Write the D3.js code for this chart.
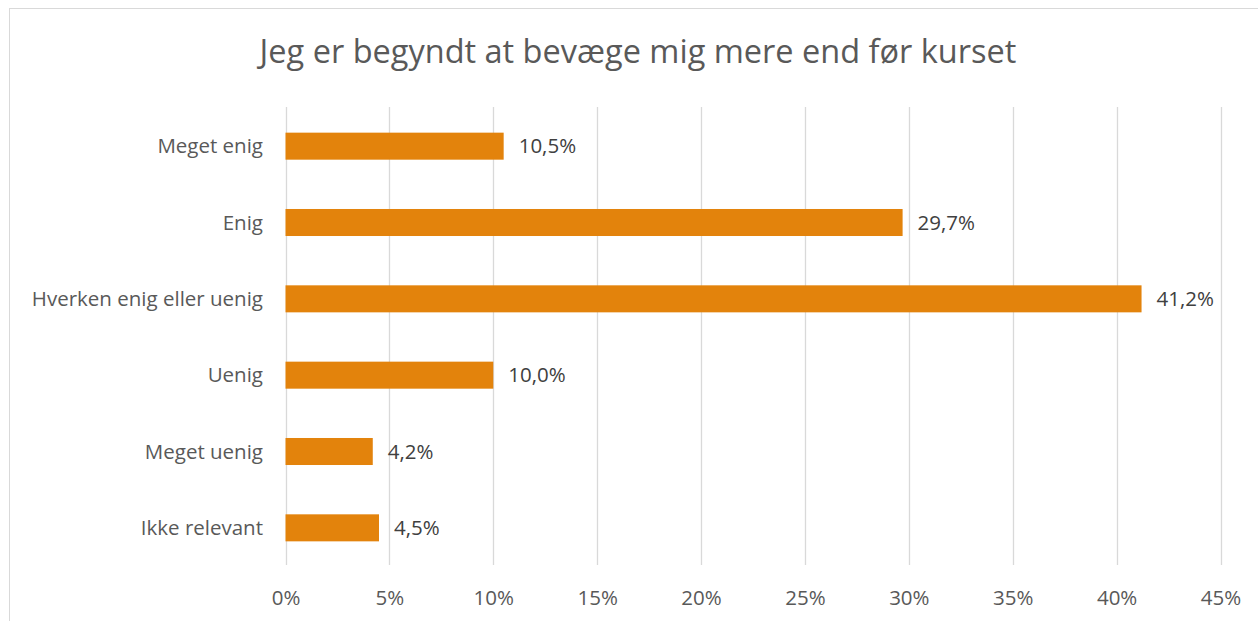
<!DOCTYPE html>
<html><head><meta charset="utf-8">
<script src="https://cdn.jsdelivr.net/npm/d3@7"></script>
<style>body{margin:0;background:#fff}svg{display:block}text{font-family:"Open Sans",Lato,sans-serif}</style>
</head><body>
<script>
const categories = ["Meget enig","Enig","Hverken enig eller uenig","Uenig","Meget uenig","Ikke relevant"];
const values = [10.5, 29.7, 41.2, 10.0, 4.2, 4.5];
const tickValues = [0,5,10,15,20,25,30,35,40,45];
const title = "Jeg er begyndt at bevæge mig mere end før kurset";

const W=1258,H=621;
const svg=d3.select("body").append("svg").attr("width",W).attr("height",H);
svg.append("rect").attr("x",9.5).attr("y",8.5).attr("width",W).attr("height",H).attr("fill","#fff").attr("stroke","#d9d9d9").attr("stroke-width",1);

const x=d3.scaleLinear().domain([0,45]).range([285.5,1220.5]);
const y=d3.scaleBand().domain(categories).range([108,566]).paddingInner(0.646).paddingOuter(0.323);

svg.append("text").attr("x",638).attr("y",63).attr("text-anchor","middle").attr("font-size",32.5).attr("fill","#595959").text(title);

const grid=svg.append("g");
grid.selectAll("line").data(tickValues).join("line")
  .attr("x1",d=>Math.round(x(d))+0.5).attr("x2",d=>Math.round(x(d))+0.5)
  .attr("y1",107).attr("y2",565).attr("stroke","#d9d9d9").attr("stroke-width",1.3);

const xAxis=d3.axisBottom(x).tickValues(tickValues).tickFormat(d=>d+"%").tickSize(0).tickPadding(0);
const gx=svg.append("g").attr("transform","translate(0,565)").call(xAxis);
gx.select(".domain").remove();
gx.selectAll("text").attr("font-size",20.5).attr("fill","#595959").attr("dy",null).attr("y",40);

const yAxis=d3.axisLeft(y).tickSize(0).tickPadding(0);
const gy=svg.append("g").attr("transform","translate(263,0)").call(yAxis);
gy.select(".domain").remove();
gy.selectAll("text").attr("font-size",20.5).attr("fill","#595959").attr("dy","0.35em");

svg.append("g").selectAll("rect").data(values).join("rect")
  .attr("x",x(0)).attr("y",(d,i)=>y(categories[i]))
  .attr("width",d=>x(d)-x(0)).attr("height",y.bandwidth()).attr("fill","#E3830C");

svg.append("g").selectAll("text").data(values).join("text")
  .attr("x",d=>x(d)+15).attr("y",(d,i)=>y(categories[i])+y.bandwidth()/2).attr("dy","0.35em")
  .attr("font-size",20.5).attr("fill","#404040")
  .text(d=>d.toFixed(1).replace(".",",")+"%");
</script>
</body></html>
